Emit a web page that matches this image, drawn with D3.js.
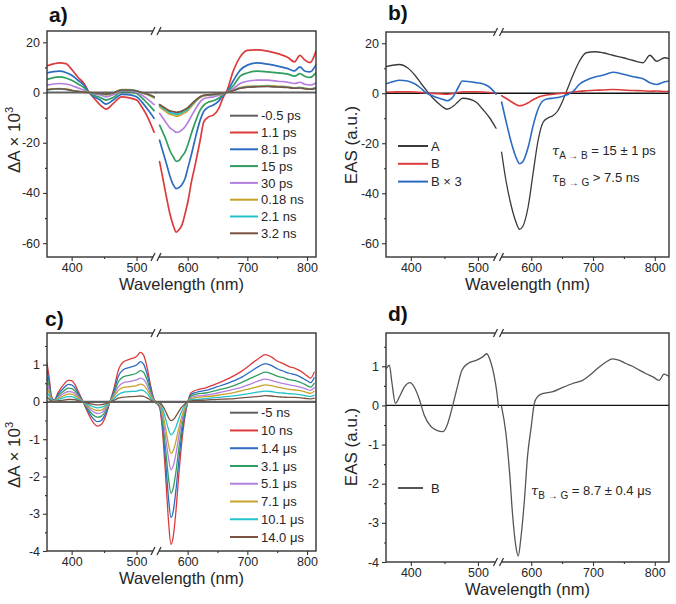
<!DOCTYPE html>
<html><head><meta charset="utf-8">
<script src="https://cdn.jsdelivr.net/npm/d3@7"></script>
<style>body{margin:0;background:#fff}svg{display:block}</style>
</head><body><svg id="c" width="676" height="604"></svg>
<script>
// ---------------- DATA ----------------
const xTicks = [400, 500, 600, 700, 800];
const xMinor = [450, 650, 750];
const yTicksAB = [-60, -40, -20, 0, 20];
const yMinorAB = [-50, -30, -10, 10];
const yTicksCD = [-4, -3, -2, -1, 0, 1];
const yMinorCD = [-3.5, -2.5, -1.5, -0.5, 0.5, 1.5];

// panel a: wavelengths (nm) and ΔA×10^3
const wlA = [362,372,381,391,400,410,419,427,432,444,453,464,477,487,500,508,518,527,553,564,570,576,581,586,590,596,601,606,612,621,627,635,643,652,660,665,677,688,700,717,734,751,768,779,788,796,805,815];
const wlA0 = [362,530,547,815];
const labelsA = ["-0.5 ps","1.1 ps","8.1 ps","15 ps","30 ps","0.18 ns","2.1 ns","3.2 ns"];
const a_m05ps = [0,0,0,0];
const a_1p1ps = [10.6,11.4,11.8,11.5,9.2,6.0,3.6,0,-1.5,-5.0,-6.6,-4.4,-1.7,-2.0,-3.0,-5.7,-10.3,-15.8,-27.5,-41,-48,-53,-55.6,-54.5,-53,-48,-42.8,-36,-29.5,-19,-11.7,-9.7,-9,-6.4,-1.7,0.3,8.9,14.2,16.8,17,16.5,15.5,13.9,12.2,14.8,13,11.9,16.5];
const a_8p1ps = [7.8,8.3,8.5,8.0,6.9,4.8,2.9,0,-1.2,-3.0,-4.6,-3.0,-0.7,-0.8,-1.7,-3.7,-7.0,-10.3,-19,-28,-33,-36.8,-38.3,-37.8,-36.8,-34,-29.5,-25,-19,-11,-7.5,-5.8,-5.0,-3.4,-1.0,0,4.9,8.9,10.9,11.8,11.3,10.5,9.5,8.6,10.2,8.6,8.2,11.0];
const a_15ps = [5.2,5.9,6.2,5.8,4.9,3.4,2.0,0,-0.8,-2.0,-3.0,-2.0,0.3,0.3,-0.4,-2.0,-4.6,-7.2,-13,-19,-23,-25.6,-27.4,-27,-25.6,-23.5,-20.3,-16.5,-12.3,-7.0,-5.0,-3.8,-3.3,-2.3,-0.8,0,2.9,6.5,7.8,8.5,8.2,7.8,7.3,6.5,7.5,6.5,6.0,7.8];
const a_30ps = [2.9,3.4,3.6,3.4,2.8,1.8,0.9,0,-0.4,-1.0,-1.7,-0.9,0.7,0.7,0.1,-1.0,-2.8,-4.8,-8.3,-12,-14,-15,-15.9,-15.6,-15,-13.5,-11.7,-9.5,-7.0,-3.7,-2.5,-2.0,-1.7,-1.2,-0.4,0,1.6,3.6,4.5,4.9,4.9,4.5,4.1,3.6,4.1,3.3,3.0,3.8];
const a_018ns = [1.2,1.5,1.6,1.4,0.9,0.5,0.2,0,-0.2,-0.5,-0.9,-0.3,1.2,1.2,0.7,-0.1,-1.0,-2.2,-5.7,-7.7,-8.6,-9.0,-9.4,-9.2,-8.7,-8.0,-7.0,-5.6,-4.0,-2.0,-1.4,-1.1,-0.9,-0.7,-0.3,0,0.9,2.0,2.5,2.6,2.8,2.5,2.3,1.9,2.1,1.7,1.5,2.0];
const a_2p1ns = [1.0,1.3,1.4,1.2,0.8,0.4,0.1,0,-0.2,-0.4,-0.7,-0.2,1.1,1.1,0.7,0.0,-0.8,-1.9,-5.2,-7.0,-7.9,-8.3,-8.6,-8.4,-8.0,-7.3,-6.4,-5.1,-3.6,-1.8,-1.2,-1.0,-0.8,-0.6,-0.2,0,0.8,1.8,2.3,2.4,2.5,2.3,2.1,1.8,1.9,1.6,1.4,1.8];
const a_3p2ns = [1.1,1.4,1.5,1.3,0.8,0.4,0.1,0,-0.1,-0.4,-0.6,-0.2,1.0,1.0,0.6,0.0,-0.7,-1.7,-4.8,-6.5,-7.3,-7.6,-7.9,-7.7,-7.4,-6.7,-5.9,-4.7,-3.3,-1.7,-1.1,-0.9,-0.7,-0.5,-0.2,0,0.8,1.7,2.1,2.3,2.4,2.2,2.0,1.7,1.8,1.5,1.3,1.7];

// panel b: EAS
const wlB = [363,373,383,395,407,415,422,432,440,447,454,464,470,477,488,498,507,517,527,552,559,568,576,581,586,595,603,611,619,627,635,643,651,659,668,678,689,703,716,732,749,765,781,792,803,816,823];
const labelsB = ["A","B","B \u00d7 3"];
const b_A = [10.6,11.2,11.5,10.2,6.9,4.0,1.6,-1.7,-3.8,-5.4,-6.4,-5.0,-3.5,-2.0,-2.4,-3.7,-6.4,-9.7,-14.0,-23.6,-34.8,-45.4,-52,-54.4,-53.4,-45.4,-32,-19,-11.7,-9.9,-9.0,-7.0,-3.0,2.0,7.5,12.8,16.2,16.6,16.2,15.2,14.2,13.1,12.2,15.2,12.8,14.2,13.8];
const b_B = [0.4,0.5,0.6,0.6,0.5,0.3,0.1,-0.1,-0.2,-0.3,-0.4,-0.1,0.3,0.6,0.6,0.6,0.5,0.3,0.0,-1.0,-2.0,-3.4,-4.6,-5.0,-4.8,-3.8,-2.6,-1.6,-1.0,-0.6,-0.4,-0.2,0.0,0.2,0.5,0.8,1.0,1.2,1.3,1.5,1.3,1.1,1.0,0.8,0.9,0.7,0.8];
const b_B3 = [3.8,4.6,5.2,4.9,3.6,2.0,0.3,-1.0,-1.8,-2.4,-3.0,-1.0,2.0,4.9,4.6,4.2,3.8,2.5,-0.4,-3.5,-11,-20,-26,-28.2,-27.5,-21.6,-13,-6.4,-3.0,-2.2,-2.0,-1.7,-1.2,-0.5,0.8,3.6,5.2,6.5,7.2,8.4,7.6,6.6,5.8,4.2,3.5,4.6,4.9];

// panel c: ΔA×10^3
const wlC = [362,365,369,373,379,387,395,400,405,411,417,424,432,440,446,452,458,465,472,480,490,500,506,511,516,521,526,531,547,553,558,563,568,572,576,580,585,590,595,600,606,615,630,650,670,690,705,720,730,740,750,760,770,780,790,800,806,812];
const wlC0 = [362,531,547,815];
const labelsC = ["-5 ns","10 ns","1.4 \u03bcs","3.1 \u03bcs","5.1 \u03bcs","7.1 \u03bcs","10.1 \u03bcs","14.0 \u03bcs"];
const c_m5ns = [0,0,0,0];
const c_10ns = [1.05,0.7,0.15,0.05,0.25,0.45,0.58,0.57,0.47,0.25,0.03,-0.25,-0.52,-0.65,-0.6,-0.4,-0.05,0.35,0.85,1.08,1.15,1.22,1.33,1.25,0.95,0.5,0.12,-0.03,-0.03,-0.15,-0.8,-1.95,-3.2,-3.82,-3.6,-3.0,-2.0,-1.1,-0.45,-0.02,0.25,0.32,0.38,0.5,0.64,0.82,1.0,1.18,1.27,1.21,1.1,1.03,0.95,0.9,0.82,0.7,0.64,0.8];
const c_1p4us = [0.85,0.57,0.12,0.04,0.2,0.36,0.47,0.46,0.38,0.2,0.02,-0.2,-0.42,-0.53,-0.49,-0.32,-0.04,0.28,0.69,0.87,0.93,0.99,1.08,1.01,0.77,0.41,0.1,-0.02,-0.02,-0.12,-0.65,-1.58,-2.59,-3.1,-2.92,-2.43,-1.62,-0.89,-0.36,-0.02,0.2,0.26,0.31,0.41,0.52,0.66,0.81,0.96,1.03,0.98,0.89,0.83,0.77,0.73,0.66,0.57,0.52,0.65];
const c_3p1us = [0.66,0.44,0.09,0.03,0.16,0.28,0.37,0.36,0.3,0.16,0.02,-0.16,-0.33,-0.41,-0.38,-0.25,-0.03,0.22,0.54,0.68,0.72,0.77,0.84,0.79,0.6,0.32,0.08,-0.02,-0.02,-0.1,-0.51,-1.25,-2.05,-2.45,-2.3,-1.92,-1.28,-0.7,-0.29,-0.01,0.16,0.21,0.24,0.32,0.4,0.52,0.63,0.74,0.8,0.76,0.69,0.65,0.6,0.57,0.52,0.44,0.4,0.5];
const c_5p1us = [0.5,0.34,0.07,0.02,0.12,0.22,0.28,0.27,0.23,0.12,0.01,-0.12,-0.25,-0.31,-0.29,-0.19,-0.02,0.17,0.41,0.52,0.55,0.59,0.64,0.6,0.46,0.24,0.06,-0.01,-0.01,-0.07,-0.38,-0.93,-1.52,-1.82,-1.71,-1.43,-0.95,-0.52,-0.21,-0.01,0.12,0.16,0.18,0.24,0.31,0.39,0.48,0.57,0.61,0.58,0.53,0.49,0.46,0.43,0.39,0.34,0.31,0.38];
const c_7p1us = [0.38,0.25,0.05,0.02,0.09,0.16,0.21,0.21,0.17,0.09,0.01,-0.09,-0.19,-0.23,-0.22,-0.14,-0.02,0.13,0.31,0.39,0.41,0.44,0.48,0.45,0.34,0.18,0.04,-0.01,-0.01,-0.05,-0.29,-0.7,-1.15,-1.38,-1.3,-1.08,-0.72,-0.4,-0.16,-0.01,0.09,0.12,0.14,0.18,0.23,0.3,0.36,0.42,0.46,0.44,0.4,0.37,0.34,0.32,0.3,0.25,0.23,0.29];
const c_10p1us = [0.25,0.17,0.04,0.01,0.06,0.11,0.14,0.14,0.11,0.06,0.01,-0.06,-0.12,-0.16,-0.14,-0.1,-0.01,0.08,0.2,0.26,0.28,0.29,0.32,0.3,0.23,0.12,0.03,-0.01,-0.01,-0.03,-0.18,-0.45,-0.74,-0.88,-0.83,-0.69,-0.46,-0.25,-0.1,0.0,0.06,0.07,0.09,0.12,0.15,0.19,0.23,0.27,0.29,0.28,0.25,0.24,0.22,0.21,0.19,0.16,0.15,0.18];
const c_14p0us = [0.13,0.08,0.02,0.01,0.03,0.05,0.07,0.07,0.06,0.03,0.0,-0.03,-0.06,-0.08,-0.07,-0.05,-0.01,0.04,0.1,0.13,0.14,0.15,0.16,0.15,0.11,0.06,0.01,0.0,0.0,-0.02,-0.1,-0.25,-0.42,-0.5,-0.47,-0.39,-0.26,-0.14,-0.06,0.0,0.03,0.04,0.05,0.07,0.08,0.11,0.13,0.15,0.17,0.16,0.14,0.13,0.12,0.12,0.11,0.09,0.08,0.1];

// panel d: EAS B
const wlD = [364,368,372,377,383,390,399,405,413,420,430,438,448,455,462,470,476,485,497,507,513,519,524,528,531,552,559,565,570,575,579,583,589,594,600,605,610,618,635,651,667,683,699,710,721,732,743,753,764,775,786,797,807,815,822];
const labelsD = ["B"];
const d_B = [0.95,1.03,0.56,0.05,0.22,0.46,0.58,0.47,0.14,-0.25,-0.54,-0.63,-0.67,-0.46,-0.03,0.52,0.9,1.07,1.15,1.24,1.32,1.11,0.77,0.35,-0.05,-0.03,-0.71,-1.73,-2.83,-3.59,-3.85,-3.42,-2.41,-1.3,-0.54,0.05,0.22,0.3,0.35,0.46,0.56,0.64,0.83,0.98,1.11,1.19,1.15,1.07,1.0,0.9,0.81,0.73,0.64,0.8,0.75];

// ---------------- DRAWING ----------------
const FONT = '"Liberation Sans", Arial, Helvetica, sans-serif';
const TXT = "#262626";
const COL = {gray:"#606060", red:"#dc3b3b", blue:"#2b6cc0", green:"#2f9e5e", purple:"#b47fe0",
             gold:"#c9a22a", cyan:"#22c2ca", brown:"#7a5242", black:"#3a3a3a", dgray:"#555555"};
const BREAK_NM = 540;
const svg = d3.select("#c");

function drawPanel(p) {
  const g = svg.append("g");
  const x = d3.scaleLinear().domain(p.xDomain).range([p.x0, p.xb, p.xb, p.x1]);
  const y = d3.scaleLinear().domain(p.yDomain).range([p.y1, p.y0]);
  const clipId = "clip_" + p.id;
  svg.append("clipPath").attr("id", clipId).append("rect")
    .attr("x", p.x0).attr("y", p.y0).attr("width", p.x1 - p.x0).attr("height", p.y1 - p.y0);
  const fmt = d => String(d);
  g.append("g").attr("transform", `translate(0,${p.y1})`)
    .call(d3.axisBottom(x).tickValues(xTicks).tickSize(4).tickPadding(2).tickFormat(fmt));
  g.append("g").attr("transform", `translate(0,${p.y1})`)
    .call(d3.axisBottom(x).tickValues(xMinor).tickSize(2).tickFormat(""));
  g.append("g").attr("transform", `translate(${p.x0},0)`)
    .call(d3.axisLeft(y).tickValues(p.yTicks).tickSize(4).tickPadding(3).tickFormat(fmt));
  g.append("g").attr("transform", `translate(${p.x0},0)`)
    .call(d3.axisLeft(y).tickValues(p.yMinor).tickSize(2).tickFormat(""));
  g.selectAll(".domain").remove();
  g.selectAll(".tick line").attr("stroke", "#333").attr("stroke-width", 1.1);
  g.selectAll(".tick text").attr("font-size", 12.5).attr("font-family", FONT).attr("fill", TXT);

  const plot = g.append("g").attr("clip-path", `url(#${clipId})`);
  if (p.zeroLine) {
    plot.append("line").attr("x1", p.x0).attr("x2", p.x1).attr("y1", y(0)).attr("y2", y(0))
      .attr("stroke", p.zeroLine).attr("stroke-width", 1.4);
  }
  const line = d3.line().x(d => x(d[0])).y(d => y(d[1])).curve(d3.curveMonotoneX);
  p.series.forEach(s => {
    const pts = s.wl.map((w, i) => [w, s.values[i]]);
    [pts.filter(d => d[0] < BREAK_NM), pts.filter(d => d[0] > BREAK_NM)].forEach(seg => {
      plot.append("path").attr("d", line(seg)).attr("fill", "none")
        .attr("stroke", s.color).attr("stroke-width", s.width)
        .attr("stroke-linejoin", "round").attr("stroke-linecap", "round");
    });
  });
  g.append("rect").attr("x", p.x0).attr("y", p.y0).attr("width", p.x1 - p.x0).attr("height", p.y1 - p.y0)
    .attr("fill", "none").attr("stroke", "#333").attr("stroke-width", 1.4);
  [p.y0, p.y1].forEach(yy => {
    g.append("rect").attr("x", p.xb - 3).attr("y", yy - 2).attr("width", 6).attr("height", 4).attr("fill", "#fff");
    [-5, 1].forEach(dx => {
      g.append("line").attr("x1", p.xb + dx).attr("y1", yy + 4).attr("x2", p.xb + dx + 4).attr("y2", yy - 4)
        .attr("stroke", "#333").attr("stroke-width", 1.3);
    });
  });
  // x title
  g.append("text").attr("x", (p.x0 + p.x1) / 2).attr("y", p.y1 + 33).attr("text-anchor", "middle")
    .attr("font-family", FONT).attr("font-size", 16.5).attr("fill", TXT).text("Wavelength (nm)");
  // y title
  const yt = g.append("text").attr("transform", `translate(${p.ytx},${p.yty}) rotate(-90)`)
    .attr("text-anchor", "middle").attr("font-family", FONT).attr("font-size", 17).attr("fill", TXT);
  if (p.ySup) {
    yt.append("tspan").text(p.yTitle);
    yt.append("tspan").attr("dy", -7).attr("font-size", 11).text(p.ySup);
  } else yt.text(p.yTitle);
  // panel label
  svg.append("text").attr("x", p.lx).attr("y", p.ly).attr("font-family", FONT).attr("font-weight", "bold")
    .attr("font-size", 21).attr("fill", "#111").text(p.label);
  return {x, y, g};
}

function legend(items, lx1, lx2, tx, y0, dy, fs) {
  items.forEach((it, i) => {
    const yy = y0 + i * dy;
    svg.append("line").attr("x1", lx1).attr("x2", lx2).attr("y1", yy).attr("y2", yy)
      .attr("stroke", it.color).attr("stroke-width", 2);
    svg.append("text").attr("x", tx).attr("y", yy).attr("dy", "0.36em").attr("font-family", FONT)
      .attr("font-size", fs).attr("fill", TXT).text(it.label);
  });
}

function tauText(xx, yy, sub, rest) {
  const t = svg.append("text").attr("x", xx).attr("y", yy).attr("font-family", FONT).attr("font-size", 13).attr("fill", TXT);
  t.append("tspan").attr("font-style", "italic").attr("font-family", '"DejaVu Serif", serif').attr("font-size", 13).text("\u03c4");
  t.append("tspan").attr("dy", 4).attr("font-size", 10).text(sub);
  t.append("tspan").attr("dy", -4).text(" " + rest);
}

// ----- panel a -----
const colorsA = [COL.gray, COL.red, COL.blue, COL.green, COL.purple, COL.gold, COL.cyan, COL.brown];
const valsA = [a_m05ps, a_1p1ps, a_8p1ps, a_15ps, a_30ps, a_018ns, a_2p1ns, a_3p2ns];
drawPanel({
  id: "a", x0: 47, x1: 316, xb: 156, y0: 31, y1: 257,
  xDomain: [362, 530, 547, 815], yDomain: [-65.5, 24.5],
  yTicks: yTicksAB, yMinor: yMinorAB, zeroLine: null,
  series: valsA.map((v, i) => ({wl: i === 0 ? wlA0 : wlA, values: v, color: colorsA[i], width: i === 0 ? 2.2 : 1.7})),
  ytx: 20, yty: 140, yTitle: "\u0394A \u00d7 10", ySup: "3", label: "a)", lx: 49, ly: 22
});
legend(labelsA.map((l, i) => ({label: l, color: colorsA[i]})), 230, 258, 261, 115.7, 16.8, 13);

// ----- panel b -----
const colorsB = [COL.black, COL.red, COL.blue];
const valsB = [b_A, b_B, b_B3];
drawPanel({
  id: "b", x0: 386, x1: 669, xb: 498.5, y0: 32, y1: 257,
  xDomain: [363, 530.6, 547, 823], yDomain: [-65.5, 24.5],
  yTicks: yTicksAB, yMinor: yMinorAB, zeroLine: "#111",
  series: valsB.map((v, i) => ({wl: wlB, values: v, color: colorsB[i], width: i === 0 ? 1.3 : 1.6})),
  ytx: 357, yty: 145, yTitle: "EAS (a.u.)", label: "b)", lx: 388, ly: 20
});
legend(labelsB.map((l, i) => ({label: l, color: colorsB[i]})), 398, 428, 431, 146, 17.8, 13);
tauText(552, 155, "A \u2192 B", "= 15 \u00b1 1 ps");
tauText(552, 182, "B \u2192 G", "> 7.5 ns");

// ----- panel c -----
const valsC = [c_m5ns, c_10ns, c_1p4us, c_3p1us, c_5p1us, c_7p1us, c_10p1us, c_14p0us];
drawPanel({
  id: "c", x0: 47, x1: 316, xb: 156, y0: 333, y1: 551,
  xDomain: [362, 530, 547, 815], yDomain: [-4, 1.85],
  yTicks: yTicksCD, yMinor: yMinorCD, zeroLine: null,
  series: valsC.map((v, i) => ({wl: i === 0 ? wlC0 : wlC, values: v, color: colorsA[i], width: i === 0 ? 2.2 : 1.3})),
  ytx: 20, yty: 455, yTitle: "\u0394A \u00d7 10", ySup: "3", label: "c)", lx: 45, ly: 326
});
legend(labelsC.map((l, i) => ({label: l, color: colorsA[i]})), 230, 258, 261, 412.7, 17.76, 13);

// ----- panel d -----
drawPanel({
  id: "d", x0: 386, x1: 669, xb: 498.5, y0: 333, y1: 562,
  xDomain: [363, 530.6, 547, 823], yDomain: [-4, 1.85],
  yTicks: yTicksCD, yMinor: yMinorCD, zeroLine: "#111",
  series: [{wl: wlD, values: d_B, color: COL.dgray, width: 1.3}],
  ytx: 357, yty: 447, yTitle: "EAS (a.u.)", label: "d)", lx: 388, ly: 321
});
legend([{label: labelsD[0], color: COL.dgray}], 398, 423, 431, 488, 18, 13);
tauText(531, 495, "B \u2192 G", "= 8.7 \u00b1 0.4 \u03bcs");
</script>
</body></html>
